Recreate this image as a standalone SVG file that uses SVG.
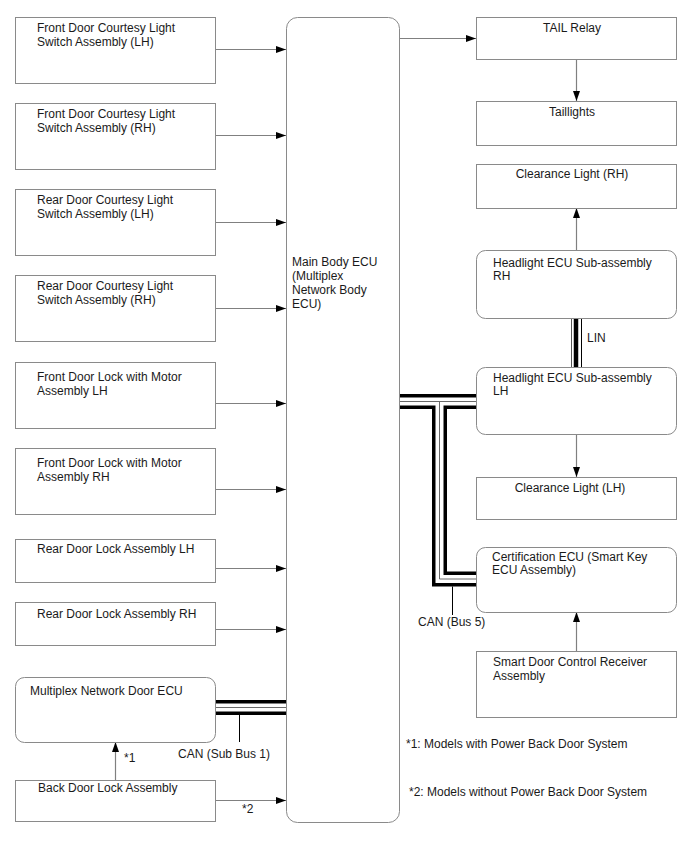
<svg xmlns="http://www.w3.org/2000/svg" width="688" height="852" viewBox="0 0 688 852">
<style>
text{font-family:"Liberation Sans",Arial,sans-serif;font-size:12px;fill:#1a1a1a}
.box{fill:#fff;stroke:#8a8a8a;stroke-width:1}
.ln{fill:none;stroke:#808080;stroke-width:1.2}
.busK{fill:none;stroke:#000;stroke-width:15}
.busW{fill:none;stroke:#fff;stroke-width:8}
.busT{fill:none;stroke:#6a6a6a;stroke-width:1}
.lead{fill:none;stroke:#000;stroke-width:1}
.c{text-anchor:middle}
</style>
<defs>
<marker id="ah" markerUnits="userSpaceOnUse" markerWidth="11" markerHeight="8" refX="10" refY="3.5" orient="auto">
<path d="M0,0 L10,3.5 L0,7 z" fill="#000"/>
</marker>
</defs>
<rect width="688" height="852" fill="#fff"/>

<g id="connectors">
<line class="ln" x1="215" y1="49.5" x2="286" y2="49.5" marker-end="url(#ah)"/>
<line class="ln" x1="215" y1="135.5" x2="286" y2="135.5" marker-end="url(#ah)"/>
<line class="ln" x1="215" y1="222.5" x2="286" y2="222.5" marker-end="url(#ah)"/>
<line class="ln" x1="215" y1="308.5" x2="286" y2="308.5" marker-end="url(#ah)"/>
<line class="ln" x1="215" y1="403.5" x2="286" y2="403.5" marker-end="url(#ah)"/>
<line class="ln" x1="215" y1="489.5" x2="286" y2="489.5" marker-end="url(#ah)"/>
<line class="ln" x1="215" y1="568.5" x2="286" y2="568.5" marker-end="url(#ah)"/>
<line class="ln" x1="215" y1="629.5" x2="286" y2="629.5" marker-end="url(#ah)"/>
<line class="ln" x1="215" y1="800.5" x2="286" y2="800.5" marker-end="url(#ah)"/>
<line class="ln" x1="115.5" y1="780" x2="115.5" y2="742" marker-end="url(#ah)"/>
<line class="ln" x1="399" y1="38.5" x2="476" y2="38.5" marker-end="url(#ah)"/>
<line class="ln" x1="576.5" y1="59" x2="576.5" y2="101" marker-end="url(#ah)"/>
<line class="ln" x1="576.5" y1="250" x2="576.5" y2="208" marker-end="url(#ah)"/>
<line class="ln" x1="576.5" y1="434" x2="576.5" y2="477" marker-end="url(#ah)"/>
<line class="ln" x1="576.5" y1="651" x2="576.5" y2="612" marker-end="url(#ah)"/>
<!-- CAN Sub Bus 1 -->
<path class="busK" d="M215,707.5 H286"/>
<path class="busW" d="M215,707.5 H286"/>
<path class="busT" d="M215,707.5 H286"/>
<line class="lead" x1="239.5" y1="715" x2="239.5" y2="742"/>
<!-- CAN Bus 5 -->
<path class="busK" d="M399,401.5 H476 M439.5,401.5 V579 H476"/>
<path class="busW" d="M399,401.5 H476 M439.5,401.5 V579 H476"/>
<path class="busT" d="M399,401.5 H476 M439.5,401.5 V579 H476"/>
<line class="lead" x1="452.5" y1="586.5" x2="452.5" y2="615"/>
<!-- LIN -->
<line x1="571.5" y1="318" x2="571.5" y2="367" stroke="#555" stroke-width="1"/>
<line x1="576" y1="318" x2="576" y2="367" stroke="#000" stroke-width="4.5"/>
<line x1="581.5" y1="318" x2="581.5" y2="367" stroke="#000" stroke-width="1"/>
</g>

<g id="n1"><rect class="box" x="15.5" y="17.5" width="200" height="66"/><text x="37" y="32">Front Door Courtesy Light</text><text x="37" y="46">Switch Assembly (LH)</text></g>
<g id="n2"><rect class="box" x="15.5" y="103.5" width="200" height="66"/><text x="37" y="118">Front Door Courtesy Light</text><text x="37" y="132">Switch Assembly (RH)</text></g>
<g id="n3"><rect class="box" x="15.5" y="189.5" width="200" height="66"/><text x="37" y="204">Rear Door Courtesy Light</text><text x="37" y="218">Switch Assembly (LH)</text></g>
<g id="n4"><rect class="box" x="15.5" y="275.5" width="200" height="66"/><text x="37" y="290">Rear Door Courtesy Light</text><text x="37" y="304">Switch Assembly (RH)</text></g>
<g id="n5"><rect class="box" x="15.5" y="362.5" width="200" height="66"/><text x="37" y="381">Front Door Lock with Motor</text><text x="37" y="395">Assembly LH</text></g>
<g id="n6"><rect class="box" x="15.5" y="448.5" width="200" height="66"/><text x="37" y="467">Front Door Lock with Motor</text><text x="37" y="481">Assembly RH</text></g>
<g id="n7"><rect class="box" x="15.5" y="539.5" width="200" height="43"/><text x="37" y="553">Rear Door Lock Assembly LH</text></g>
<g id="n8"><rect class="box" x="15.5" y="602.5" width="200" height="43"/><text x="37" y="618">Rear Door Lock Assembly RH</text></g>
<g id="n9"><rect class="box" x="15.5" y="677.5" width="200" height="65" rx="9"/><text x="30" y="695">Multiplex Network Door ECU</text></g>
<g id="n10"><rect class="box" x="15.5" y="780.5" width="200" height="41"/><text x="38" y="792">Back Door Lock Assembly</text></g>
<g id="ecu"><rect class="box" x="286.5" y="17.5" width="113" height="805" rx="11"/><text x="292" y="266">Main Body ECU</text><text x="292" y="280">(Multiplex</text><text x="292" y="294">Network Body</text><text x="292" y="308">ECU)</text></g>
<g id="r1"><rect class="box" x="476.5" y="17.5" width="200" height="42"/><text class="c" x="572" y="32">TAIL Relay</text></g>
<g id="r2"><rect class="box" x="476.5" y="101.5" width="200" height="44"/><text class="c" x="572" y="116">Taillights</text></g>
<g id="r3"><rect class="box" x="476.5" y="164.5" width="200" height="44"/><text class="c" x="572" y="178">Clearance Light (RH)</text></g>
<g id="r4"><rect class="box" x="476.5" y="250.5" width="200" height="68" rx="9"/><text x="493" y="267">Headlight ECU Sub-assembly</text><text x="493" y="280">RH</text></g>
<g id="r5"><rect class="box" x="476.5" y="367.5" width="200" height="67" rx="9"/><text x="493" y="382">Headlight ECU Sub-assembly</text><text x="493" y="395">LH</text></g>
<g id="r6"><rect class="box" x="476.5" y="477.5" width="200" height="42"/><text class="c" x="570" y="492">Clearance Light (LH)</text></g>
<g id="r7"><rect class="box" x="476.5" y="547.5" width="200" height="65" rx="9"/><text x="492" y="561">Certification ECU (Smart Key</text><text x="492" y="574">ECU Assembly)</text></g>
<g id="r8"><rect class="box" x="476.5" y="651.5" width="200" height="66"/><text x="493" y="666">Smart Door Control Receiver</text><text x="493" y="680">Assembly</text></g>

<g id="labels">
<text x="587" y="342">LIN</text>
<text x="418" y="626">CAN (Bus 5)</text>
<text x="178" y="758">CAN (Sub Bus 1)</text>
<text x="124" y="762">*1</text>
<text x="242" y="813">*2</text>
<text x="406" y="748">*1: Models with Power Back Door System</text>
<text x="409" y="796">*2: Models without Power Back Door System</text>
</g>
</svg>
